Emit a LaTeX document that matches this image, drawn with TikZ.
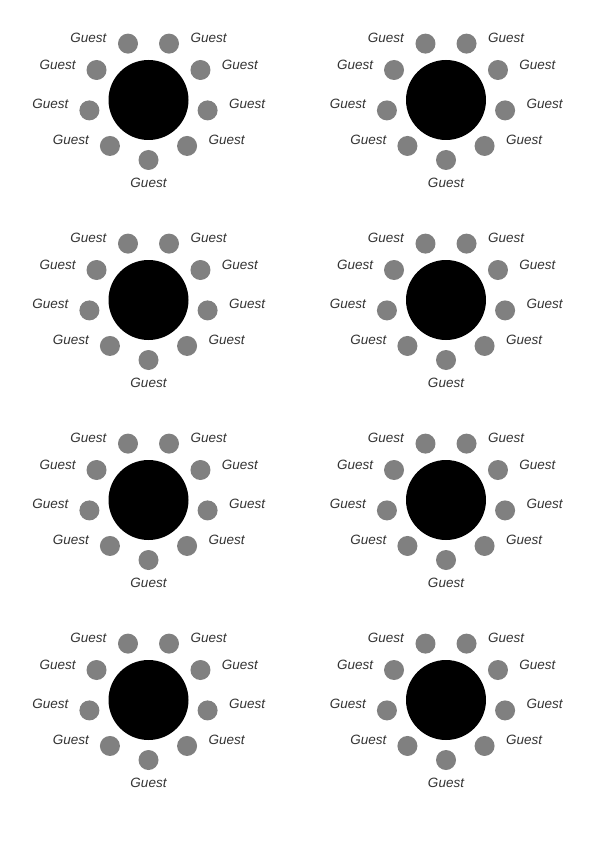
\documentclass[tikz,border=0pt]{standalone}
\usepackage{fontspec}
\setmainfont{Liberation Sans}
\definecolor{seatgray}{HTML}{808080}
\definecolor{labelgray}{HTML}{333333}
\begin{document}
\begin{tikzpicture}[x=1pt,y=-1pt,
  tablebox/.style={circle,fill=black,minimum size=80pt,inner sep=0pt},
  seatdot/.style={circle,fill=seatgray,minimum size=20pt,inner sep=0pt},
  guestlabel/.style={inner sep=0pt,text=labelgray,font=\fontsize{13.5}{16}\selectfont\itshape}]
\useasboundingbox (0,0) rectangle (595,842);
\foreach \cx/\cy [count=\t] in {148.5/100,446/100,148.5/300,446/300,148.5/500,446/500,148.5/700,446/700}{
  \node[tablebox] (table\t) at (\cx,\cy) {};
  \foreach \a/\dx/\dy [count=\s] in {270/0/22.5,310/39.5/-6.5,350/39.5/-7,30/39.5/-5.5,70/39.5/-6,110/-39.5/-6,150/-39/-5.5,190/-39/-7,230/-39/-6.5}{
    \node[seatdot] (seat\t-\s) at ({\cx+60*cos(\a)},{\cy-60*sin(\a)}) {};
    \node[guestlabel] (guest\t-\s) at ([shift={(\dx,\dy)}]seat\t-\s.center) {Guest};
  }
}
\end{tikzpicture}
\end{document}
